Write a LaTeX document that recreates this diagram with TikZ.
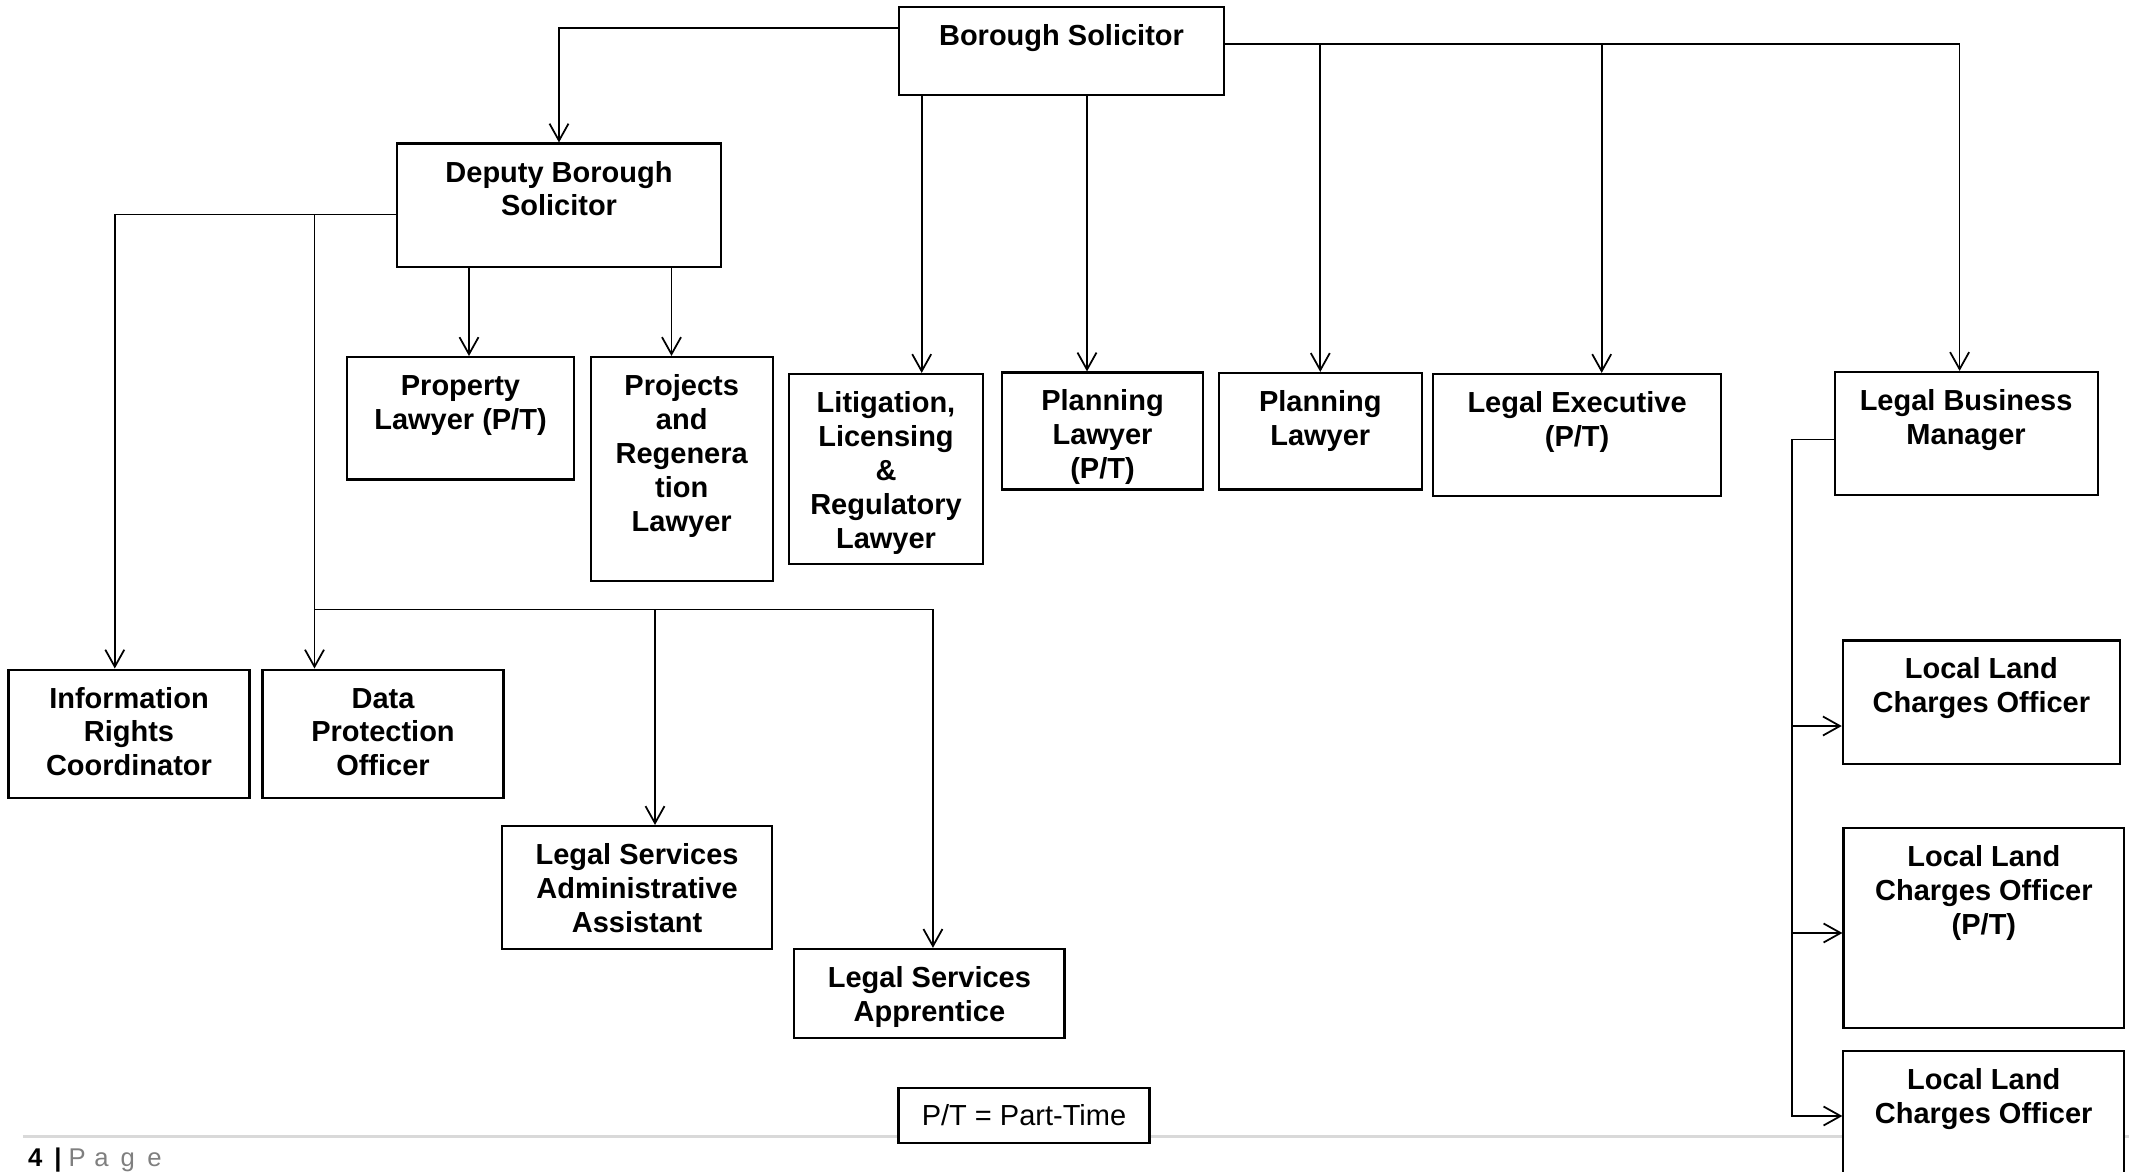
\documentclass[tikz,border=0pt]{standalone}
\usepackage{fontspec}
\setmainfont{Liberation Sans}
\usetikzlibrary{arrows.meta, positioning, calc}
\definecolor{footline}{HTML}{D9D9D9}
\definecolor{pagegray}{HTML}{7F7F7F}
\newcommand{\boxfont}{\fontsize{8.25}{9.65}\selectfont\bfseries}
\newcommand{\roleLines}[1]{\begin{tabular}[t]{@{}c@{}}#1\end{tabular}}

\begin{document}
\begin{tikzpicture}[
  >={Straight Barb[length=1.7mm, width=1.9mm]},
  orgbox/.style 2 args={
    draw, line width=0.6pt, fill=white, font=\boxfont,
    minimum width=#1, inner ysep=0pt,
    text height=0.385cm, text depth=#2
  },
  keybox/.style={
    draw, line width=0.6pt, fill=white, align=center,
    font=\fontsize{8.25}{9.65}\selectfont,
    minimum width=2.51cm, minimum height=0.548cm, inner sep=0pt
  },
  arr/.style={->, line width=0.5pt, black},
]

% Background
\fill[white] (0,0) rectangle (21.29,-11.72);
\useasboundingbox (0,0) rectangle (21.29,-11.72);

% Footer rule
\draw[footline, line width=0.7pt] (0.23,-11.365) -- (21.29,-11.365);

% =============================================
% Top level
% =============================================
\node[orgbox={3.25cm}{0.50cm}] (bs) at (10.615,-0.51)
  {Borough Solicitor};

\node[orgbox={3.24cm}{0.847cm}] (dbs) at (5.59,-2.051)
  {\roleLines{Deputy Borough\\Solicitor}};

% =============================================
% Second row
% =============================================
\node[orgbox={2.275cm}{0.84cm}] (prop) at (4.605,-4.183)
  {\roleLines{Property\\Lawyer (P/T)}};

\node[orgbox={1.82cm}{1.851cm}] (proj) at (6.817,-4.688)
  {\roleLines{Projects\\and\\Regenera\\tion\\Lawyer}};

\node[orgbox={1.94cm}{1.515cm}] (lit) at (8.86,-4.69)
  {\roleLines{Litigation,\\Licensing\\\&\\Regulatory\\Lawyer}};

\node[orgbox={2.016cm}{0.786cm}] (plan1) at (11.025,-4.31)
  {\roleLines{Planning\\Lawyer\\(P/T)}};

\node[orgbox={2.026cm}{0.78cm}] (plan2) at (13.203,-4.312)
  {\roleLines{Planning\\Lawyer}};

\node[orgbox={2.886cm}{0.839cm}] (lexec) at (15.771,-4.352)
  {\roleLines{Legal Executive\\(P/T)}};

\node[orgbox={2.63cm}{0.843cm}] (lbm) at (19.661,-4.334)
  {\roleLines{Legal Business\\Manager}};

% =============================================
% Lower rows
% =============================================
\node[orgbox={2.411cm}{0.898cm}] (irc) at (1.29,-7.337)
  {\roleLines{Information\\Rights\\Coordinator}};

\node[orgbox={2.411cm}{0.898cm}] (dpo) at (3.83,-7.337)
  {\roleLines{Data\\Protection\\Officer}};

\node[orgbox={2.702cm}{0.844cm}] (lsaa) at (6.371,-8.8745)
  {\roleLines{Legal Services\\Administrative\\Assistant}};

\node[orgbox={2.701cm}{0.502cm}] (lsapp) at (9.2945,-9.9325)
  {\roleLines{Legal Services\\Apprentice}};

\node[orgbox={2.772cm}{0.85cm}] (llc1) at (19.814,-7.022)
  {\roleLines{Local Land\\Charges Officer}};

\node[orgbox={2.809cm}{1.62cm}] (llc2) at (19.839,-9.28)
  {\roleLines{Local Land\\Charges Officer\\(P/T)}};

\node[orgbox={2.806cm}{0.905cm}] (llc3) at (19.837,-11.155)
  {\roleLines{Local Land\\Charges Officer}};

% Key
\node[keybox] (key) at (10.24,-11.152) {P/T = Part-Time};

% =============================================
% Connectors from Borough Solicitor
% =============================================
\coordinate (bsL) at ($(bs.north west)!0.243!(bs.south west)$);
\coordinate (bsR) at ($(bs.north east)!0.424!(bs.south east)$);
\coordinate (litin) at ([xshift=3.57mm]lit.north);
\coordinate (plan1in) at ([xshift=-1.55mm]plan1.north);
\coordinate (lexecin) at ([xshift=2.46mm]lexec.north);
\coordinate (lbmin) at ([xshift=-0.65mm]lbm.north);

\draw[arr] (bsL) -| (dbs.north);
\draw[arr] (bs.south -| litin) -- (litin);
\draw[arr] (bs.south -| plan1in) -- (plan1in);
\draw[arr] (bsR) -| (lbmin);
\draw[arr] (bsR -| plan2.north) -- (plan2.north);
\draw[arr] (bsR -| lexecin) -- (lexecin);

% =============================================
% Connectors from Deputy Borough Solicitor
% =============================================
\coordinate (dbsL) at ($(dbs.north west)!0.575!(dbs.south west)$);
\coordinate (propin) at ([xshift=0.85mm]prop.north);
\coordinate (projin) at ([xshift=-1.02mm]proj.north);
\coordinate (ircin) at ([xshift=-1.42mm]irc.north);
\coordinate (dpoin) at ([xshift=-6.85mm]dpo.north);
\coordinate (lsaain) at ([xshift=1.79mm]lsaa.north);
\coordinate (lsappin) at ([xshift=0.35mm]lsapp.north);
\coordinate (dbus) at (3.145,-6.094);

\draw[arr] (dbs.south -| propin) -- (propin);
\draw[arr] (dbs.south -| projin) -- (projin);
\draw[arr] (dbsL) -| (ircin);
\draw[arr] (dbsL -| dpoin) -- (dpoin);
\draw[arr] (dbus) -| (lsappin);
\draw[arr] (dbus -| lsaain) -- (lsaain);

% =============================================
% Connectors from Legal Business Manager
% =============================================
\coordinate (lbmL) at ($(lbm.north west)!0.548!(lbm.south west)$);
\coordinate (lspine) at (17.919,-11.16);
\coordinate (llc1in) at ([yshift=-2.38mm]llc1.west);
\coordinate (llc2in) at ([yshift=-0.5mm]llc2.west);

\draw[arr] (lbmL) -| (lspine) -- (lspine -| llc3.west);
\draw[arr] (lspine |- llc1in) -- (llc1in);
\draw[arr] (lspine |- llc2in) -- (llc2in);

% Page footer
\node[anchor=base west, font=\fontsize{7.3}{8.8}\selectfont, inner sep=0pt] (pageno)
  at (0.275,-11.667)
  {\textbf{4\hspace{1.2mm}|}\hspace{0.7mm}{\color{pagegray}P\hspace{0.85mm}a\hspace{1.2mm}g\hspace{1.25mm}e}};

\end{tikzpicture}
\end{document}
